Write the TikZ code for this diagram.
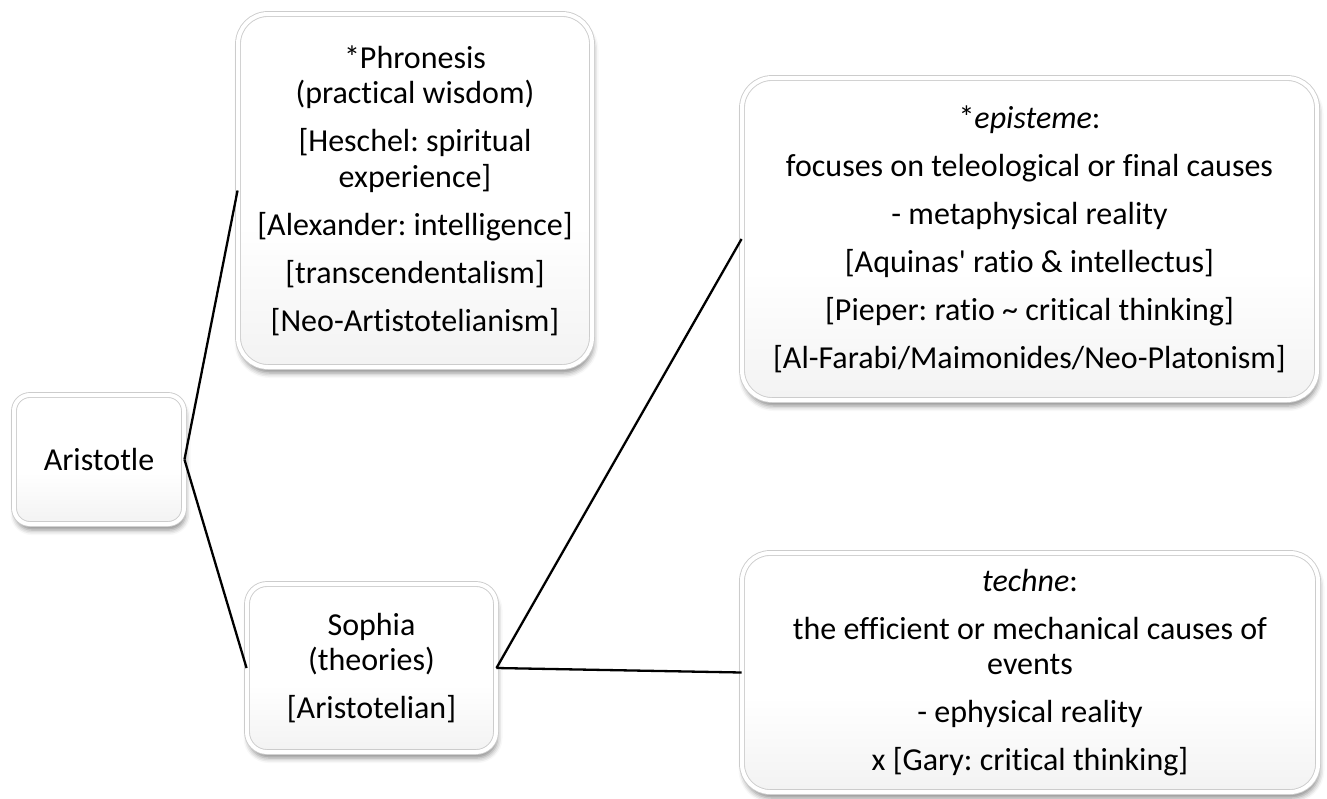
\documentclass[tikz,border=0pt]{standalone}
\usepackage{fontspec}
\setmainfont{Carlito}[Ligatures={NoCommon}]
\usetikzlibrary{shadows,shadows.blur}
\pgfdeclareverticalshading{boxshade}{100bp}{color(0bp)=(black!11); color(45bp)=(white); color(100bp)=(white)}
\begin{document}
\frenchspacing
\begin{tikzpicture}[x=1pt,y=-1pt,
  box/.style={draw=black!20, line width=0.9pt, double=white, double distance=4pt,
    shading=boxshade, align=center,
    inner sep=0pt, font=\fontsize{32}{35.5}\selectfont,
    blur shadow={shadow xshift=1.5pt, shadow yshift=-6pt, shadow blur radius=5pt, shadow opacity=45}},
  conn/.style={line width=2.3pt, black}]
\useasboundingbox (0,0) rectangle (1327,798);
\node[box, minimum width=170pt, minimum height=129pt, rounded corners=16pt] (ari) at (99,459.5) {Aristotle};
\node[box, minimum width=354pt, minimum height=353pt, rounded corners=30pt] (phr) at (415,190.5)
  {*Phronesis\\(practical wisdom)\\[12.5pt][Heschel: spiritual\\experience]\\[12.5pt][Alexander: intelligence]\\[12.5pt][transcendentalism]\\[12.5pt][Neo-Artistotelianism]};
\node[box, minimum width=249pt, minimum height=168pt, rounded corners=20pt] (sop) at (371.5,668)
  {Sophia\\(theories)\\[12.5pt][Aristotelian]};
\node[box, minimum width=575pt, minimum height=322pt, rounded corners=30pt] (epi) at (1029.5,239)
  {*\textit{episteme}:\\[12.5pt]focuses on teleological or final causes\\[12.5pt]- metaphysical reality\\[12.5pt][Aquinas\textquotesingle{} ratio \& intellectus]\\[12.5pt][Pieper: ratio \textasciitilde{} critical thinking]\\[12.5pt][Al-Farabi/Maimonides/Neo-Platonism]};
\node[box, minimum width=576pt, minimum height=239pt, rounded corners=28pt] (tec) at (1030,672.5)
  {\textit{techne}:\\[12.5pt]the efficient or mechanical causes of\\events\\[12.5pt]- ephysical reality\\[12.5pt]x [Gary: critical thinking]};
\draw[conn] (ari.east) -- (phr.west);
\draw[conn] (ari.east) -- (sop.west);
\draw[conn] (sop.east) -- (epi.west);
\draw[conn] (sop.east) -- (tec.west);
\end{tikzpicture}
\end{document}
